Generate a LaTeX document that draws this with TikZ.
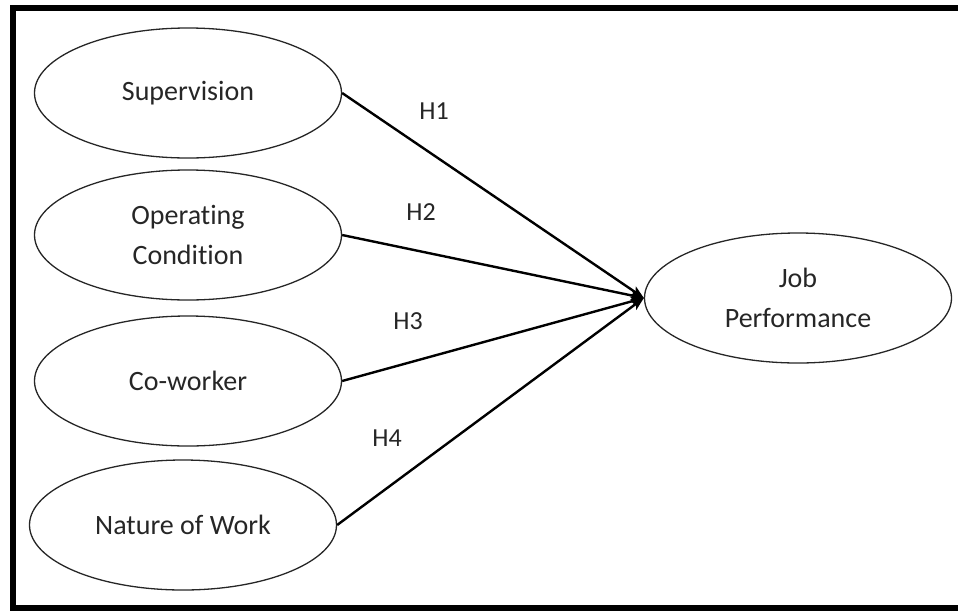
\documentclass[tikz,border=0pt]{standalone}
\usepackage{fontspec}
\setmainfont{Carlito}[Ligatures={NoCommon}]
\usetikzlibrary{shapes.geometric,arrows.meta}
\begin{document}
\begin{tikzpicture}[x=1pt,y=-1pt,
  construct/.style={draw=black!85, line width=1.3pt, ellipse, minimum width=307pt, minimum height=130pt, inner sep=0pt, align=center, font=\fontsize{28}{40}\selectfont, text=black!85},
  hyp/.style={font=\fontsize{26}{30}\selectfont, text=black!85, inner sep=0pt},
  link/.style={line width=2.4pt, -{Stealth[length=13pt,width=10pt,inset=3pt]}}]
\useasboundingbox (0,0) rectangle (958,611);
\begin{scope}
\clip (0,0) rectangle (958,611);
\draw[line width=6.5pt] (13,8) rectangle (1000,608);
\end{scope}
\node[construct] (sup) at (188,93) {Supervision};
\node[construct] (op) at (188,235) {Operating\\Condition};
\node[construct] (co) at (188,381) {Co-worker};
\node[construct] (nw) at (183,525) {Nature of Work};
\node[construct] (jp) at (798,298) {Job\\Performance};
\draw[link] (sup.east) -- (jp.west);
\draw[link] (op.east) -- (jp.west);
\draw[link] (co.east) -- (jp.west);
\draw[link] (nw.east) -- (jp.west);
\node[hyp] (h1) at (434,111) {H1};
\node[hyp] (h2) at (421,212) {H2};
\node[hyp] (h3) at (408,321) {H3};
\node[hyp] (h4) at (387,438) {H4};
\end{tikzpicture}
\end{document}
